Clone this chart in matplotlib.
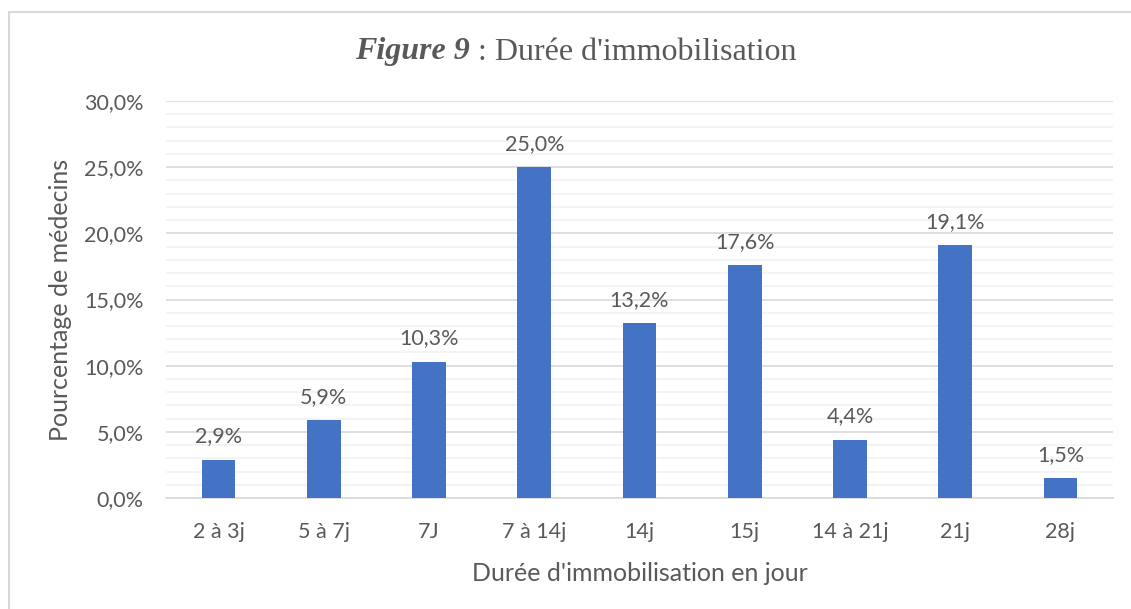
import matplotlib
matplotlib.use('Agg')
import matplotlib.pyplot as plt
import matplotlib.ticker as mtick
from matplotlib.patches import Rectangle
import numpy as np


categories = ['2 à 3j', '5 à 7j', '7J', '7 à 14j', '14j', '15j', '14 à 21j', '21j', '28j']
values = [2.9, 5.9, 10.3, 25.0, 13.2, 17.6, 4.4, 19.1, 1.5]

TEXT = '#595959'
BAR = '#4472C4'
FONT = 'Lato'

W, H = 1131, 609
fig = plt.figure(figsize=(W/100, H/100), dpi=100)
ax = fig.add_axes([166/W, 1 - 498/H, (1113-166)/W, (498-101)/H])

# light frame around the chart (clipped at right/bottom like the screenshot)
fig.patches.append(Rectangle((9/W, -0.05), 1.2, 1 - 12/H + 0.05, transform=fig.transFigure,
                             fill=False, edgecolor='#d9d9d9', linewidth=1.5))

x = np.arange(len(categories))
ax.bar(x, values, width=0.32, color=BAR, zorder=3)

for xi, v in zip(x, values):
    ax.text(xi, v + 1.0, f'{v:.1f}%'.replace('.', ','), ha='center', va='bottom',
            fontsize=15.5, color=TEXT, family=FONT)

ax.set_xlim(-0.5, len(categories) - 0.5)
ax.set_ylim(0, 30)
ax.yaxis.set_major_locator(mtick.MultipleLocator(5))
ax.yaxis.set_minor_locator(mtick.MultipleLocator(1))
ax.yaxis.set_major_formatter(mtick.FuncFormatter(lambda v, p: f'{v:.1f}%'.replace('.', ',')))
ax.grid(axis='y', which='major', color='#d9d9d9', linewidth=1.2, zorder=0)
ax.grid(axis='y', which='minor', color='#f2f2f2', linewidth=1.2, zorder=0)
ax.set_axisbelow(True)

for s in ['top', 'right', 'left']:
    ax.spines[s].set_visible(False)
ax.spines['bottom'].set_color('#d9d9d9')
ax.spines['bottom'].set_linewidth(1.2)

ax.set_xticks(x)
ax.set_xticklabels(categories)
ax.tick_params(axis='both', which='both', length=0, labelsize=15.5, labelcolor=TEXT)
ax.tick_params(axis='x', pad=17)
ax.tick_params(axis='y', pad=16)
for lab in ax.get_xticklabels() + ax.get_yticklabels():
    lab.set_family(FONT)

ax.set_ylabel('Pourcentage de médecins', fontsize=18, color=TEXT, family=FONT, labelpad=9)
ax.set_xlabel("Durée d'immobilisation en jour", fontsize=18, color=TEXT, family=FONT, labelpad=15)

fig.text(470/W, 1 - 52/H, 'Figure 9', ha='right', va='center', fontsize=23,
         family='Liberation Serif', style='italic', weight='bold', color=TEXT)
fig.text(470/W, 1 - 52/H, " : Durée d'immobilisation", ha='left', va='center', fontsize=23,
         family='Liberation Serif', color=TEXT)

fig.savefig('out.png', dpi=100)
